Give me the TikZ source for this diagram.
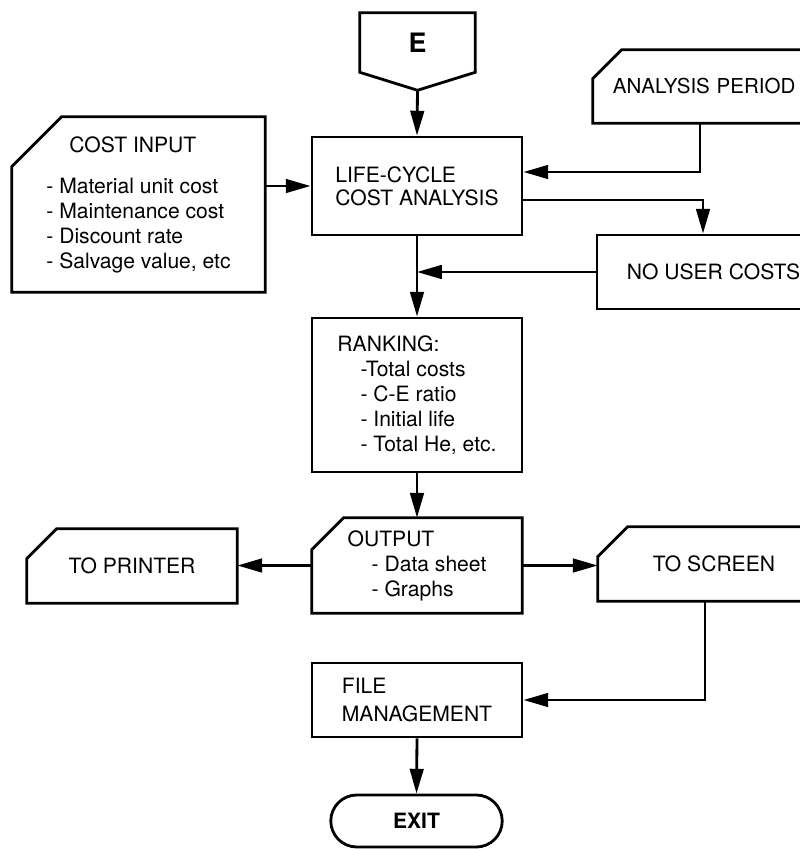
\documentclass[tikz,border=0pt]{standalone}
\usepackage{fontspec}
\setmainfont{TeX Gyre Heros}
\usetikzlibrary{positioning, arrows.meta, calc, shapes.misc}
% outline of a card node: top-left corner cut by #2
\newcommand\cardoutline[2]{\draw[ink] ($(#1.north west)+(#2,0)$) -- (#1.north east) -- (#1.south east)
  -- (#1.south west) -- ($(#1.north west)+(0,#2)$) -- cycle;}

\begin{document}
\begin{tikzpicture}[x=0.025cm, y=-0.025cm, every node/.style={font=\fontsize{15}{17.8}\selectfont}]
  \tikzset{
    ink/.style={line width=2pt, line join=miter},
    flow/.style={ink, -{Triangle[length=0.62cm, width=0.34cm]}},
    proc/.style={draw, ink, rectangle, inner sep=2pt, align=left},
    card/.style={rectangle, inner sep=2pt, align=left},
    term/.style={draw, ink, rounded rectangle, inner sep=2pt, font=\fontsize{15}{17.8}\selectfont\bfseries},
  }
  \useasboundingbox (0,0) rectangle (800,849);
  \clip (0,0) rectangle (800,849);
  %% entry connector
  \node[font=\fontsize{19}{22}\selectfont\bfseries, minimum width=2.875cm, minimum height=1.475cm, inner sep=0pt] (E) at (417.5,42.5) {\raisebox{-0.15cm}{E}};
  \draw[ink] (E.north west) -- (E.north east) -- (E.south east) -- ($(E.south)+(0,18)$) coordinate (Etip) -- (E.south west) -- cycle;
  %% inputs and analysis
  \node[proc, minimum width=5.25cm, minimum height=2.45cm] (lcc) at (417,186) {LIFE-CYCLE\\[-0.05cm]COST ANALYSIS};
  \node[card, minimum width=6.325cm, minimum height=4.375cm] (cost) at (138.5,204.5)
    {\hspace*{0.575cm}COST INPUT\\[0.4cm]- Material unit cost\\- Maintenance cost\\- Discount rate\\- Salvage value, etc};
  \cardoutline{cost}{50}
  \node[card, minimum width=5.925cm, minimum height=1.825cm, inner xsep=0.5cm, text width=4.925cm,
    font=\fontsize{14.6}{17}\selectfont] (ap) at (711.5,86.5) {ANALYSIS PERIOD};
  \cardoutline{ap}{29}
  \node[proc, minimum width=5.825cm, minimum height=1.85cm] (nuc) at (713.5,272) {NO USER COSTS};
  \node[proc, minimum width=5.25cm, minimum height=3.85cm] (rank) at (417,395)
    {RANKING:\\\hspace*{0.575cm}-Total costs\\\hspace*{0.575cm}- C-E ratio\\\hspace*{0.575cm}- Initial life\\\hspace*{0.575cm}- Total He, etc.};
  %% output
  \node[card, minimum width=5.25cm, minimum height=2.375cm] (out) at (417,565.5)
    {OUTPUT\\\hspace*{0.6cm}- Data sheet\\\hspace*{0.6cm}- Graphs};
  \cardoutline{out}{32}
  \node[card, minimum width=5.25cm, minimum height=1.85cm] (prn) at (132,566) {TO PRINTER};
  \cardoutline{prn}{30}
  \node[card, minimum width=5.8cm, minimum height=1.85cm] (scr) at (714,564) {TO SCREEN};
  \cardoutline{scr}{30}
  \node[proc, minimum width=5.25cm, minimum height=1.85cm] (fm) at (417,700) {FILE\\[0.05cm]MANAGEMENT};
  \node[term, minimum width=4.425cm, minimum height=1.3cm] (exit) at (416.5,821) {EXIT};
  %% connectors
  \draw[flow] (Etip) -- (lcc.north);
  \draw[flow] (cost.east |- lcc.west) -- (lcc.west);
  \draw[flow] ($(ap.south)+(-11.5,0)$) |- ($(lcc.east)+(0,-14)$);
  \draw[flow] ($(lcc.east)+(0,14)$) -| ($(nuc.north)+(-10.5,0)$);
  \draw[flow] (nuc.west) -- (nuc.west -| lcc.south);
  \draw[flow] (lcc.south) -- (rank.north);
  \draw[flow] (rank.south) -- (out.north);
  \draw[flow] (out.west) -- (out.west -| prn.east);
  \draw[flow] (out.east) -- (out.east -| scr.west);
  \draw[flow] ($(scr.south)+(-9,0)$) |- (fm.east);
  \draw[flow] (fm.south) -- (exit.north);
\end{tikzpicture}
\end{document}
